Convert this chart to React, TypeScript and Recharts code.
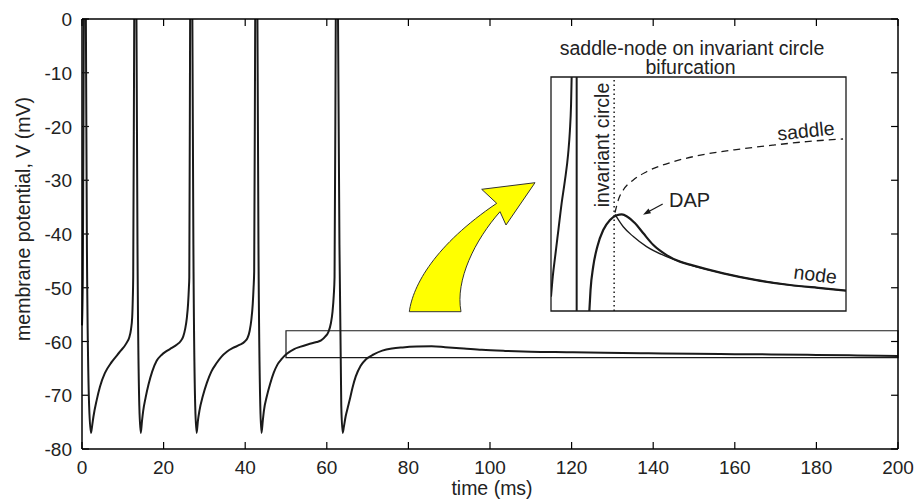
import { LineChart, Line, XAxis, YAxis, ReferenceArea, ReferenceLine } from 'recharts';

const FONT = '"Liberation Sans", Arial, Helvetica, sans-serif';
const INK = '#1a1a1a';

// membrane potential trace (spikes overshoot 0 mV and get clipped by the axis)
const TIME = [
  0, 0.2, 0.45, 0.65, 0.95, 1.2, 1.75, 2.2,
  2.5, 2.8, 3.6, 4.4, 5.6, 7.3, 9.3, 10.9, 11.6, 12.0, 12.3, 12.45, 12.55,
  12.8, 13.05, 13.35, 13.6, 14.05, 14.4,
  14.7, 15.0, 15.6, 16.3, 17.2, 18.3, 19.5, 20.7, 22.0, 23.2, 24.2, 24.8, 25.3, 25.7, 26.0, 26.2, 26.3,
  26.5, 26.75, 27.05, 27.3, 27.75, 28.1,
  28.4, 28.8, 29.6, 30.6, 31.7, 33.0, 34.2, 35.5, 37.0, 38.7, 39.9, 40.6, 41.1, 41.5, 41.85, 42.05, 42.2,
  42.45, 42.7, 43.0, 43.25, 43.7, 44.0,
  44.3, 44.6, 45.3, 46.1, 47.0, 47.9, 49.0, 50.2, 52.0, 53.4, 55.5, 57.5, 58.6, 59.6, 60.4, 61.0, 61.4, 61.7, 61.9,
  62.2, 62.45, 62.75, 63.1, 63.55, 63.9,
  64.2, 64.6, 65.1, 65.6, 66.3, 67.1, 68.3, 69.6, 71.5, 73.6, 76, 78.6, 82, 85.7, 89, 93.6, 98, 103.7, 110,
  118.8, 128, 138.8, 150, 160, 168.9, 180, 190, 200,
];
const VOLT = [
  -57, -48, 0, 30, 0, -42, -72, -77,
  -75.6, -74, -70.9, -68.4, -65.9, -63.8, -61.9, -60.3, -59.2, -57.8, -55.5, -52, -48,
  0, 30, 0, -42, -72, -77,
  -74.8, -72.9, -70.4, -68, -65.6, -63.6, -62.5, -61.8, -61.2, -60.6, -59.9, -59.1, -57.6, -55.6, -53, -50, -48,
  0, 30, 0, -42, -72, -77,
  -74.8, -72.8, -70.2, -67.7, -65.6, -64, -62.8, -61.9, -61.2, -60.6, -60.0, -59.3, -58, -56, -53, -50, -47,
  0, 30, 0, -42, -72, -77,
  -74.8, -72.8, -70.2, -67.9, -65.8, -64.3, -63.2, -62.3, -61.4, -61, -60.5, -60.1, -59.8, -59.1, -58.2, -56.6, -54.5, -51.5, -48,
  0, 30, 0, -42, -72, -77,
  -75.8, -74, -72.4, -70.9, -68.6, -66.5, -64.5, -63.3, -62.4, -61.7, -61.3, -61.1, -60.95, -60.9, -61.05, -61.3, -61.55, -61.75, -61.9,
  -62.0, -62.1, -62.2, -62.3, -62.35, -62.4, -62.5, -62.6, -62.7,
];

const X_TICKS = [0, 20, 40, 60, 80, 100, 120, 140, 160, 180, 200];
const Y_TICKS = [-80, -70, -60, -50, -40, -30, -20, -10, 0];
const X_RANGE = [0, 200];
const Y_RANGE = [-80, 0];

// region that the inset blows up
const BOX_T = [50, 200];
const BOX_V = [-63, -58];

// inset: schematic phase portrait, arbitrary 0..100 units
const UP_X = [0, 0.6, 1.4, 2.5, 3.6, 4.7, 5.8, 6.4, 6.8, 7.0];
const UP_Y = [6.1, 14.7, 23.2, 34.6, 46.0, 55.6, 67.0, 76.9, 88.3, 100];
const DOWN_X = [8.7, 8.7];
const DOWN_Y = [0, 100];
const DAP_X = [13.0, 13.4, 14.3, 15.7, 17.7, 20, 22.3, 24, 25.9, 28.5, 31.3, 34.7, 39.2, 43.7, 47.1, 58.4, 69.7, 81, 92.3, 100];
const DAP_Y = [0, 9.0, 18.9, 27.5, 34.6, 38.9, 40.9, 41.3, 40.3, 37.5, 33.2, 28.2, 23.9, 21.1, 19.8, 16.1, 13.2, 11.1, 9.7, 8.7];
const NODE_X = [21.7, 24.5, 27.9, 32.4, 39.2, 47.1, 58.4, 69.7, 81, 92.3, 100];
const NODE_Y = [41.3, 36.0, 31.8, 27.5, 23.2, 19.7, 16.1, 13.2, 11.1, 9.7, 8.7];
const SADDLE_X = [21.7, 22.8, 24.5, 27.9, 32.4, 41.5, 52.8, 64.1, 75.4, 86.7, 99];
const SADDLE_Y = [42, 47.4, 51.7, 56.0, 59.5, 63.8, 67.1, 69.2, 70.9, 72.4, 73.5];
const CIRCLE_X = 21.4;

const zip = (xs: number[], ys: number[]) => xs.map((x, i) => ({ x, y: ys[i] }));
const trace = TIME.map((t, i) => ({ t, v: VOLT[i] }));

// inward tick length, in axis units (~7px)
const TICK_T = 1.7;
const TICK_V = 1.3;

function BottomTick({ x, y, payload }: any) {
  return (
    <text x={x} y={y + 25} textAnchor="middle" fontSize={19} fontFamily={FONT} fill="#222">
      {payload.value}
    </text>
  );
}

function LeftTick({ x, y, payload }: any) {
  return (
    <text x={x - 10} y={y + 7} textAnchor="end" fontSize={19} fontFamily={FONT} fill="#222">
      {payload.value}
    </text>
  );
}

function XTitle({ viewBox }: any) {
  return (
    <text x={viewBox.x + viewBox.width / 2 + 2} y={viewBox.y + 46} textAnchor="middle" fontSize={19.5} fontFamily={FONT} fill="#222">
      time (ms)
    </text>
  );
}

function YTitle({ viewBox }: any) {
  const cx = 30;
  const cy = viewBox.y + viewBox.height / 2 - 15;
  return (
    <text x={cx} y={cy} transform={`rotate(-90 ${cx} ${cy})`} textAnchor="middle" fontSize={19.5} fontFamily={FONT} fill="#222">
      membrane potential, V (mV)
    </text>
  );
}

const axisStyle = { stroke: '#000', strokeWidth: 1.5 };
const tickStyle = { stroke: '#000', strokeWidth: 1.2 };

function Inset() {
  return (
    <LineChart width={299} height={238} margin={{ top: 2, right: 2, bottom: 2, left: 2 }}>
      <XAxis type="number" dataKey="x" domain={[0, 100]} hide allowDataOverflow />
      <YAxis type="number" dataKey="y" domain={[0, 100]} hide allowDataOverflow />
      <ReferenceArea x1={0} x2={100} y1={0} y2={100} fill="none" stroke={INK} strokeWidth={1.3} fillOpacity={0} />
      <ReferenceLine x={CIRCLE_X} stroke={INK} strokeWidth={1.5} strokeDasharray="1.5 3" />
      <Line data={zip(UP_X, UP_Y)} dataKey="y" type="monotone" stroke={INK} strokeWidth={2} dot={false} isAnimationActive={false} />
      <Line data={zip(DOWN_X, DOWN_Y)} dataKey="y" type="linear" stroke={INK} strokeWidth={2} dot={false} isAnimationActive={false} />
      <Line data={zip(SADDLE_X, SADDLE_Y)} dataKey="y" type="monotone" stroke={INK} strokeWidth={1.3} strokeDasharray="7 5" dot={false} isAnimationActive={false} />
      <Line data={zip(NODE_X, NODE_Y)} dataKey="y" type="monotone" stroke={INK} strokeWidth={1.3} dot={false} isAnimationActive={false} />
      <Line data={zip(DAP_X, DAP_Y)} dataKey="y" type="monotone" stroke={INK} strokeWidth={2.2} dot={false} isAnimationActive={false} />
    </LineChart>
  );
}

export default function App() {
  return (
    <div style={{ position: 'absolute', left: 0, top: 0, width: 917, height: 500, background: '#fff' }}>
      <LineChart width={917} height={500} margin={{ top: 19, right: 19, bottom: 21, left: 22 }}>
        <XAxis
          dataKey="t"
          type="number"
          domain={X_RANGE}
          ticks={X_TICKS}
          height={30}
          tickSize={0}
          tickMargin={0}
          tickLine={false}
          tick={<BottomTick />}
          axisLine={axisStyle}
          label={<XTitle />}
        />
        <XAxis xAxisId="top" orientation="top" type="number" domain={X_RANGE} mirror tick={false} tickLine={false} axisLine={axisStyle} />
        <YAxis
          type="number"
          domain={Y_RANGE}
          ticks={Y_TICKS}
          allowDataOverflow
          width={60}
          tickSize={0}
          tickMargin={0}
          tickLine={false}
          tick={<LeftTick />}
          axisLine={axisStyle}
          label={<YTitle />}
        />
        <YAxis yAxisId="right" orientation="right" type="number" domain={Y_RANGE} mirror tick={false} tickLine={false} axisLine={axisStyle} />

        {/* inward ticks on all four sides of the frame */}
        {X_TICKS.map((t) => (
          <ReferenceLine key={`xb${t}`} segment={[{ x: t, y: Y_RANGE[0] }, { x: t, y: Y_RANGE[0] + TICK_V }]} {...tickStyle} />
        ))}
        {X_TICKS.map((t) => (
          <ReferenceLine key={`xt${t}`} segment={[{ x: t, y: Y_RANGE[1] }, { x: t, y: Y_RANGE[1] - TICK_V }]} {...tickStyle} />
        ))}
        {Y_TICKS.map((v) => (
          <ReferenceLine key={`yl${v}`} segment={[{ x: X_RANGE[0], y: v }, { x: X_RANGE[0] + TICK_T, y: v }]} {...tickStyle} />
        ))}
        {Y_TICKS.map((v) => (
          <ReferenceLine key={`yr${v}`} segment={[{ x: X_RANGE[1], y: v }, { x: X_RANGE[1] - TICK_T, y: v }]} {...tickStyle} />
        ))}

        <ReferenceArea x1={BOX_T[0]} x2={BOX_T[1]} y1={BOX_V[0]} y2={BOX_V[1]} fill="none" fillOpacity={0} stroke={INK} strokeWidth={1.2} />
        <Line data={trace} dataKey="v" type="monotone" stroke={INK} strokeWidth={2} dot={false} isAnimationActive={false} />
      </LineChart>

      <div style={{ position: 'absolute', left: 549, top: 75 }}>
        <Inset />
      </div>

      <svg width={917} height={500} style={{ position: 'absolute', left: 0, top: 0, pointerEvents: 'none' }}>
        <path
          d="M409.3,311.7 C413,285 435,245 496.7,203.3 L481.7,189.3 L535,182.7 L506,225 L500,211.7 C475,240 455,280 461,311.7 Z"
          fill="#ffff00"
          stroke="#333"
          strokeWidth={1}
        />
        <g fontFamily={FONT} fill="#222" fontSize={19.5}>
          <text x={692} y={55} textAnchor="middle">saddle-node on invariant circle</text>
          <text x={690.5} y={73.5} textAnchor="middle">bifurcation</text>
          <text x={608.5} y={145} textAnchor="middle" transform="rotate(-90 608.5 145)">invariant circle</text>
          <text x={778} y={140.5} transform="rotate(-6 778 140.5)">saddle</text>
          <text x={793} y={278.5} transform="rotate(7 793 278.5)">node</text>
          <text x={669} y={206.5} fontSize={20}>DAP</text>
        </g>
        <line x1={662.7} y1={204} x2={646} y2={213} stroke={INK} strokeWidth={1.3} />
        <path d="M643,214.8 L648.5,208.6 L651,213.2 Z" fill={INK} />
      </svg>
    </div>
  );
}
